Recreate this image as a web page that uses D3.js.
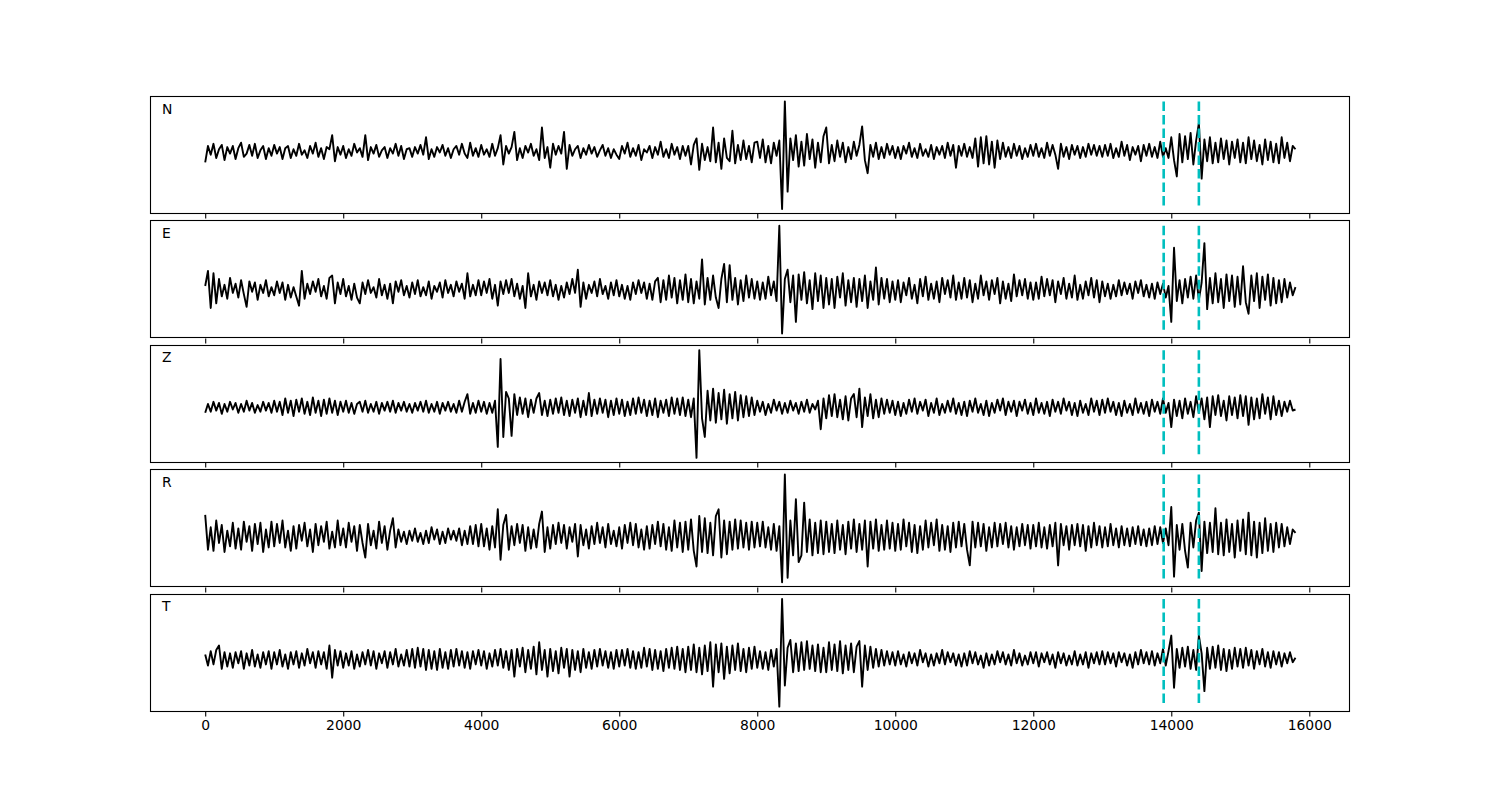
<!DOCTYPE html>
<html><head><meta charset="utf-8">
<script src="https://cdn.jsdelivr.net/npm/d3@7"></script>
<style>body{margin:0;background:#fff} svg{display:block}</style>
</head><body><svg id="c" width="1500" height="800"></svg>
<script>
// sample spacing (x units) and row span for the trace rows below
const STEP = 40;
const ROW_SPAN = 1000;
const channels = ["N", "E", "Z", "R", "T"];
const xTicks = [0, 2000, 4000, 6000, 8000, 10000, 12000, 14000, 16000];
const picks = [13890, 14400];

const N_rows = [
[-10,5,-3,7,-6,2,6,-8,4,-2,5,-7,3,8,-5,-2,6,-4,7,-6,1,5,-7,3,-4],
[6,-2,4,-7,3,5,-6,2,-4,7,-3,1,-6,5,-2,8,-5,3,-7,4,2,15,-9,4,-3],
[5,-6,2,-4,7,-1,3,-5,15,-8,4,-2,6,-5,1,4,-6,3,-2,7,-4,5,-7,2,3],
[-5,4,-2,6,-3,13,-7,2,-5,4,-1,6,-4,3,-6,2,5,-3,7,-2,-6,8,-4,3,-5],
[6,-3,2,-5,7,-4,3,15,-12,5,-2,4,18,-8,3,-6,5,-1,7,-4,2,-8,22,-6,4],
[-15,7,-3,5,-2,18,-16,6,-4,2,5,-6,3,-3,6,-2,4,-5,1,6,-4,3,-6,2,-3],
[-7,5,-2,8,-5,3,-4,6,-8,2,-1,5,-6,4,-3,9,-5,2,-6,7,-3,4,-7,5,-4],
[5,-12,6,12,-17,7,-8,4,-9,22,-10,8,-16,12,-6,-9,19,-11,6,-8,10,-7,5,-10,8],
[9,-6,11,-10,5,-11,8,-4,10,-53,46,-37,12,-8,15,-14,9,-13,16,-7,11,-15,8,-10,14],
[22,-11,6,-9,10,-5,8,-10,4,-7,9,-4,6,23,-8,-20,6,-5,8,-7,4,-6,7,-3,5],
[-6,4,-7,5,-2,8,-5,3,-6,7,-4,2,-5,6,-7,4,-3,5,-6,8,-4,6,-15,5,-4],
[7,-5,4,-6,12,-14,13,-11,14,-12,9,-15,10,-7,8,-5,4,-6,7,-4,5,-7,3,-5,6],
[-4,7,-5,3,-6,8,-4,6,-3,-16,7,-5,4,-7,6,-3,5,-6,4,-5,7,-3,6,-4,5],
[-5,6,-4,7,-6,3,-5,9,-4,6,-8,4,-3,5,-9,6,-4,7,-5,4,-6,9,-5,3,-6],
[13,-8,-23,16,-10,14,-7,17,-12,10,26,-25,11,-9,13,-11,8,-10,12,-7,10,-12,9,-6,11],
[-10,8,-11,13,-7,10,-9,6,-12,11,-8,9,-10,7,-11,13,-6,8,-9,5,2]
];

const E_rows = [
[3,16,-16,14,-12,9,-6,4,-8,10,-3,5,-7,8,-4,-15,7,-2,6,-9,4,-3,8,-6,2],
[-5,7,-3,6,-9,4,-7,2,-6,-14,16,-8,5,-4,7,-2,9,-6,3,-8,10,12,-12,6,-4],
[9,-6,3,-9,5,-7,-12,6,-4,8,-3,2,-7,9,-5,4,-8,5,-12,7,-2,8,-5,3,-7],
[6,-4,8,-6,2,-5,7,-8,3,-2,6,-7,8,-3,4,-6,7,-2,5,-8,14,-6,4,-5,8],
[-5,7,-3,9,-8,4,-14,7,-4,8,-3,9,-6,5,-8,3,-16,14,-6,4,-9,7,-3,6,-5],
[8,-6,4,-9,3,-7,6,-4,9,-3,17,-15,6,-8,4,-3,7,-6,9,-4,3,-8,6,-5,8],
[-6,4,-8,3,-9,6,-4,8,-3,6,-8,5,-9,7,10,-11,8,-9,12,-7,10,-12,8,-9,13],
[-11,9,-12,7,-8,26,-13,10,-9,12,-7,-16,9,22,-11,21,-9,10,-13,8,-10,12,-7,9,-8],
[7,-9,6,-8,11,-5,7,-10,55,-38,9,17,-11,12,-28,13,-9,15,-12,8,-17,14,-10,12,-16],
[10,-13,9,-16,11,-7,14,-14,8,-11,10,-15,9,-10,12,-16,7,-9,19,-13,10,-8,9,-11,7],
[-9,8,-11,6,-5,10,-8,4,-12,9,-6,11,-9,5,-8,7,-11,10,-4,8,-7,12,-9,6,-8],
[10,-7,8,-11,5,-8,12,-5,7,-9,8,-4,10,-12,7,-8,5,-10,13,-6,8,-5,9,-8,6],
[-9,6,-8,11,-6,9,-5,8,-11,7,-4,10,-8,5,-7,12,-9,4,-8,7,-5,10,-7,8,-11],
[7,-6,5,-8,4,-6,8,-5,6,-4,5,-8,7,-3,8,-6,4,-7,5,-8,6,-4,5,-7,3],
[-28,36,-10,8,-12,9,-7,11,-8,12,-9,6,40,-17,10,-12,14,-11,9,-16,13,-10,12,-15,11],
[-13,20,-11,-21,12,-10,14,-16,11,-9,13,-14,10,-12,8,-11,9,-7,6,-5,2]
];

const Z_rows = [
[-5,3,-4,5,-3,4,-6,3,-4,5,-2,4,-5,3,-4,6,-3,4,-5,2,-4,5,-3,4,-5],
[6,-4,5,-7,8,-5,6,-8,7,-4,8,-6,5,-7,9,-5,6,-8,7,-6,8,-5,6,-7,5],
[-4,6,-5,4,-6,3,5,-4,6,-5,3,-4,5,-6,4,-3,5,-4,6,-5,4,-3,5,-4,3],
[-5,4,-3,5,-4,6,-5,3,-4,5,-6,4,-3,5,-4,3,-5,6,-4,5,12,-6,4,-5,6],
[-4,5,-6,4,-5,6,-36,44,-27,14,8,-26,12,-7,9,-6,8,-9,7,-5,8,13,-7,6,-8],
[7,-6,8,-5,9,-7,6,-8,7,-5,8,-9,6,-7,13,-8,7,-6,8,-5,7,-9,6,-7,8],
[-6,7,-8,5,-7,8,-6,9,-5,7,-8,6,-7,8,-9,6,-5,7,-8,9,-6,8,-7,9,-8],
[7,-9,8,-46,52,-10,-27,15,-12,17,-14,13,-11,16,-15,12,-10,14,-12,11,-9,10,-8,9,-7],
[6,-4,5,-7,3,-5,7,-3,5,-6,4,-5,6,-3,4,-6,5,-4,7,-5,3,-2,6,-20,8],
[-10,11,-8,12,-9,7,-11,10,-12,8,12,-9,17,-18,9,-8,12,-10,7,-9,8,-6,7,-5,6],
[-7,5,-8,4,-6,7,-4,8,-6,5,-3,7,-8,4,-5,8,-7,3,-5,6,-4,8,-6,4,-7],
[5,-8,6,-4,8,-5,3,-7,6,-8,4,-5,7,-3,8,-7,5,-4,6,-8,5,-3,7,-6,4],
[-7,8,-5,4,-6,5,-8,7,-4,5,-6,8,-3,5,-7,4,-8,6,-5,3,-7,8,-4,6,-7],
[7,-5,8,-4,5,-7,4,-8,6,-5,3,-7,8,-5,4,-6,5,-8,7,-4,5,-6,8,-5,4],
[-18,7,-8,6,-10,8,-6,5,-9,10,-5,8,-11,9,-18,10,-7,11,-8,6,-12,10,-7,9,-10],
[11,-8,10,-16,9,-11,8,-10,12,-6,9,-11,10,-7,6,-8,5,-4,6,-3,-2]
];

const R_rows = [
[19,-12,8,-13,14,-6,10,-14,5,-9,12,-11,7,-12,13,-5,9,-13,11,-7,12,-14,6,-10,13],
[-9,11,-6,14,-10,5,-13,9,-11,10,-4,12,-9,6,-14,11,-8,9,-5,13,-11,4,-10,14,-8],
[7,-10,12,-5,9,-13,10,-6,-19,11,-8,5,-11,13,-6,9,-12,5,16,-10,6,-5,4,-7,5],
[-4,7,-5,3,-7,5,-6,8,-3,6,-7,4,-6,7,-3,5,-4,7,-8,5,-7,9,-7,10,-9],
[11,-9,7,-12,9,-10,24,-21,10,19,-12,9,-8,11,-6,10,-13,8,-11,6,-10,11,22,-14,8],
[-11,10,-7,12,-6,10,-11,8,-5,11,-18,10,-8,6,-11,9,-7,12,-6,8,-10,11,-7,5,-9],
[8,-11,10,-6,12,-8,11,-10,6,-12,9,-11,10,-7,13,-9,11,-12,8,-13,14,-10,12,-14,13],
[-12,15,-13,-27,18,-14,16,-15,12,-17,18,24,-19,14,-16,13,-12,15,-11,14,-10,12,-12,13,-10],
[12,-9,13,-10,8,-12,11,-13,9,-41,55,-37,14,-17,33,-23,-17,30,-14,15,-17,12,-15,14,-16],
[13,-14,11,-15,14,-12,10,-16,13,-11,15,-14,11,-12,14,-27,13,-11,15,-13,10,-12,14,-11,12],
[-13,11,-12,15,-9,12,-14,10,-15,9,-12,14,-10,12,-8,15,-13,10,-12,9,-14,12,-10,13,-9],
[11,-12,-26,13,-10,12,-9,11,-13,8,-10,12,-9,11,-7,12,-10,9,-12,8,-9,11,-8,10,-11],
[10,-9,12,-10,8,-11,10,-9,12,-26,11,-8,9,-12,10,-8,11,-9,10,-13,9,-10,12,-8,9],
[-10,8,-9,11,-8,7,-10,9,-8,7,-9,8,-7,9,-8,6,-9,7,-8,9,-7,8,-6,7,-8],
[26,-36,10,-12,11,-13,-28,12,-10,14,21,-31,13,-15,12,-14,25,-16,12,-17,15,-14,11,-19,14],
[-13,15,-16,21,-17,13,-19,12,-15,16,-13,11,-14,12,-10,11,-9,8,-7,6,3]
];

const T_rows = [
[4,-6,7,-5,8,12,-9,6,-7,5,-8,6,-4,7,-9,5,-6,8,-7,4,-8,6,-5,7,-9],
[6,-5,8,-7,4,-9,6,-5,7,-8,5,-6,9,-4,6,-8,7,-5,6,-9,12,-17,8,-6,7],
[-8,5,-6,7,-9,4,-7,6,-5,8,-6,7,-9,5,-4,7,-8,6,-5,9,-7,4,-6,8,-7],
[9,-8,10,-7,9,-10,8,-9,7,-10,9,-8,6,-9,8,-7,9,-6,7,-8,6,-9,7,-5,8],
[-6,7,-9,5,-7,8,-6,9,-8,7,-10,8,-16,9,-7,10,-12,8,-9,11,-14,15,-10,8,-16],
[9,-11,7,-13,10,-8,9,-16,8,-10,7,-12,9,-8,6,-9,8,-7,9,-6,7,-8,6,-9,8],
[-7,8,-6,9,-8,7,-9,6,-8,10,-7,9,-10,8,-9,7,-11,9,-8,10,-9,11,-10,9,-12],
[11,-10,13,-12,10,-14,12,-11,15,-25,13,-12,14,-18,11,-13,12,-10,14,-11,9,-12,10,-9,11],
[-8,7,-9,6,-10,8,-7,9,-43,54,-24,10,17,-12,14,-11,15,-10,16,-9,12,-11,13,-12,10],
[-12,15,-10,13,-11,16,-13,12,-10,14,-12,11,16,-25,12,-10,11,-8,9,-7,8,-6,7,-5,6],
[-6,7,-5,4,-7,6,-4,5,-6,8,-3,5,-7,4,-6,5,-4,8,-5,6,-3,5,-6,4,-7],
[5,-6,7,-4,6,-5,3,-8,5,-6,4,-5,7,-3,6,-5,4,-6,8,-4,5,-6,3,-5,6],
[-4,6,-7,5,-3,6,-5,4,-8,6,-4,5,-6,3,-5,7,-6,4,-5,6,-8,5,-4,6,-5],
[7,-5,6,-4,5,-7,6,-3,5,-6,4,-8,6,-5,8,-4,6,-5,7,-6,5,-4,9,-6,7],
[21,-26,9,-8,10,-7,11,-9,8,-10,21,5,-29,10,-9,11,-8,12,-10,9,-11,8,-9,10,-7],
[9,-8,10,-6,8,-9,7,-5,9,-7,6,-8,7,-5,6,-7,5,-4,6,-3,1]
];

const traceRows = [N_rows, E_rows, Z_rows, R_rows, T_rows];

(function draw() {
  // ---- layout ----
  const padL = 150, padR = 1350, padT = 96, padB = 712;
  const hspace = 0.05;
  const nP = channels.length;
  const ph = (padB - padT) / (nP + (nP - 1) * hspace);
  const gap = ph * hspace;

  const svg = d3.select("#c");
  const x = d3.scaleLinear().domain([-800, 16590]).range([padL, padR]);
  const font = "'DejaVu Sans', sans-serif";

  channels.forEach((ch, k) => {
    const rows = traceRows[k];
    const data = rows.flatMap((row, r) => row.map((v, j) => ({x: r * ROW_SPAN + j * STEP, y: v})));
    const [mn, mx] = d3.extent(data, d => d.y);
    const pad = 0.05 * (mx - mn);
    const y0 = padT + k * (ph + gap);
    const y = d3.scaleLinear().domain([mn - pad, mx + pad]).range([y0 + ph, y0]);

    const g = svg.append("g");

    const line = d3.line().x(d => x(d.x)).y(d => y(d.y));
    g.append("path").datum(data)
      .attr("d", line)
      .attr("fill", "none")
      .attr("stroke", "#000")
      .attr("stroke-width", 1.9)
      .attr("stroke-linejoin", "round");

    // pick markers spanning the trace extent
    g.selectAll("line.pick").data(picks).enter().append("line")
      .attr("class", "pick")
      .attr("x1", d => x(d)).attr("x2", d => x(d))
      .attr("y1", y(mx)).attr("y2", y(mn))
      .attr("stroke", "#00bfbf")
      .attr("stroke-width", 2.6)
      .attr("stroke-dasharray", "9.5,4");

    // frame
    g.append("rect")
      .attr("x", padL + 0.5).attr("y", Math.round(y0) + 0.5)
      .attr("width", padR - padL - 1).attr("height", Math.round(ph) - 1)
      .attr("fill", "none").attr("stroke", "#000").attr("stroke-width", 1.1);

    // bottom axis ticks (labels only on last panel)
    const ax = d3.axisBottom(x).tickValues(xTicks).tickSize(4.9).tickPadding(4.2)
      .tickFormat(k === nP - 1 ? d3.format("d") : () => "");
    const axg = g.append("g").attr("transform", `translate(0,${Math.round(y0 + ph) - 0.5})`).call(ax);
    axg.select(".domain").remove();
    axg.selectAll("line").attr("stroke", "#000").attr("stroke-width", 1.1);
    axg.selectAll("text").attr("font-family", font).attr("font-size", "13.9px").attr("fill", "#000");

    // channel label
    g.append("text")
      .attr("x", padL + 12).attr("y", y0 + 17.5)
      .attr("font-family", font).attr("font-size", "13.9px").attr("fill", "#000")
      .text(ch);
  });
})();
</script>
</body></html>
